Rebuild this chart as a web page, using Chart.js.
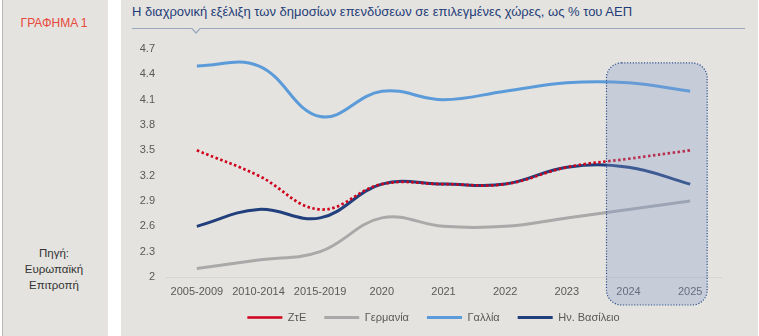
<!DOCTYPE html>
<html>
<head>
<meta charset="utf-8">
<script src="https://cdn.jsdelivr.net/npm/chart.js@4/dist/chart.umd.min.js"></script>
<style>
  html, body { margin: 0; padding: 0; background: #ffffff; width: 759px; height: 336px; overflow: hidden; font-family: "Liberation Sans", Arial, sans-serif; }
  #left { position: absolute; left: 0; top: 0; height: 336px; background: #e4e3df; border-left: 1px solid #b9b9b6; box-sizing: border-box; margin-left: 2px; width: 106px; }
  #panel { position: absolute; left: 121px; top: 0; width: 637px; height: 336px; background: #e4e3df; }
  #tag { position: absolute; left: 0; top: 16px; width: 108px; text-align: center; color: #e8473a; font-size: 12px; }
  #src { position: absolute; left: 0; top: 245px; width: 108px; text-align: center; color: #333333; font-size: 11.5px; line-height: 16px; }
  #title { position: absolute; left: 132px; top: 4px; color: #1f3d78; font-size: 13px; white-space: nowrap; }
  #rule { position: absolute; left: 0; top: 0; }
  #c { position: absolute; left: 0; top: 0; }
</style>
</head>
<body>
<div id="left"></div>
<div id="panel"></div>
<div id="tag">ΓΡΑΦΗΜΑ 1</div>
<div id="src">Πηγή:<br>Ευρωπαϊκή<br>Επιτροπή</div>
<div id="title">Η διαχρονική εξέλιξη των δημοσίων επενδύσεων σε επιλεγμένες χώρες, ως % του ΑΕΠ</div>
<svg id="rule" width="759" height="40"><polyline points="132,28.5 192,28.5 196,33 200,28.5 745,28.5" fill="none" stroke="#97a8bf" stroke-width="1.2"/></svg>
<canvas id="c" width="759" height="336"></canvas>
<script>
const categories = ["2005-2009", "2010-2014", "2015-2019", "2020", "2021", "2022", "2023", "2024", "2025"];
const greece  = [3.5, 3.2, 2.8, 3.1, 3.1, 3.1, 3.3, 3.4, 3.5];
const germany = [2.1, 2.2, 2.3, 2.7, 2.6, 2.6, 2.7, 2.8, 2.9];
const france  = [4.5, 4.5, 3.9, 4.2, 4.1, 4.2, 4.3, 4.3, 4.2];
const uk      = [2.6, 2.8, 2.7, 3.1, 3.1, 3.1, 3.3, 3.3, 3.1];
const seriesNames = ["ΖτΕ", "Γερμανία", "Γαλλία", "Ην. Βασίλειο"];
const yMin = 2, yMax = 4.7, yStep = 0.3;
const forecastStart = 7, forecastEnd = 8;

const highlight = {
  id: 'highlight',
  afterDatasetsDraw(chart) {
    const {ctx, chartArea, scales: {x, y}} = chart;
    const l = x.getPixelForValue(forecastStart) - 22;
    const r = x.getPixelForValue(forecastEnd) + 17;
    const t = y.getPixelForValue(4.535);
    const b = chartArea.bottom + 28;
    const rad = 15;
    ctx.save();
    ctx.beginPath();
    ctx.roundRect(l, t, r - l, b - t, rad);
    ctx.fillStyle = 'rgba(129,155,204,0.3)';
    ctx.fill();
    ctx.setLineDash([1.2, 1.6]);
    ctx.lineWidth = 1.2;
    ctx.strokeStyle = '#2f4f8f';
    ctx.stroke();
    ctx.restore();
  }
};

// nudge the legend block to its place in the reference
const legendNudge = {
  id: 'legendNudge',
  afterLayout(chart) {
    const lg = chart.legend;
    if (!lg) return;
    const dx = 5, dy = -5;
    lg.left += dx; lg.right += dx; lg.top += dy; lg.bottom += dy;
  }
};

const fontSpec = { family: '"Liberation Sans", Arial, sans-serif', size: 11 };
const common = { pointRadius: 0, pointHoverRadius: 0, borderWidth: 3, tension: 0.4, fill: false };
new Chart(document.getElementById('c'), {
  type: 'line',
  data: {
    labels: categories,
    datasets: [
      Object.assign({ label: seriesNames[0], data: greece, borderColor: '#d0021b', backgroundColor: '#d0021b', borderDash: [2.5, 2.5] }, common, { borderWidth: 2.7 }),
      Object.assign({ label: seriesNames[1], data: germany, borderColor: '#a9a9a9', backgroundColor: '#a9a9a9' }, common),
      Object.assign({ label: seriesNames[2], data: france, borderColor: '#5b9bd9', backgroundColor: '#5b9bd9' }, common),
      Object.assign({ label: seriesNames[3], data: uk, borderColor: '#213f7c', backgroundColor: '#213f7c' }, common)
    ]
  },
  options: {
    responsive: false,
    animation: false,
    locale: 'en-US',
    layout: { padding: { left: 136, right: 38, top: 49, bottom: -2 } },
    plugins: {
      tooltip: { enabled: false },
      legend: {
        position: 'bottom',
        labels: {
          usePointStyle: true,
          pointStyle: 'line',
          pointStyleWidth: 35,
          padding: 18,
          color: '#595959',
          font: fontSpec
        }
      }
    },
    scales: {
      x: {
        offset: true,
        grid: { display: false, drawTicks: false },
        border: { display: true, color: '#d6d5d1', width: 1 },
        ticks: { color: '#595959', padding: 8, maxRotation: 0, autoSkip: false, font: fontSpec },
        afterFit(s) { s.height = 22; }
      },
      y: {
        min: yMin, max: yMax,
        grid: { display: false, drawTicks: false },
        border: { display: false },
        ticks: { stepSize: yStep, color: '#595959', padding: 11, font: fontSpec,
          callback: v => String(Number(v.toFixed(1))) },
        afterFit(s) { s.width = 30; }
      }
    }
  },
  plugins: [highlight, legendNudge]
});
</script>
</body>
</html>
